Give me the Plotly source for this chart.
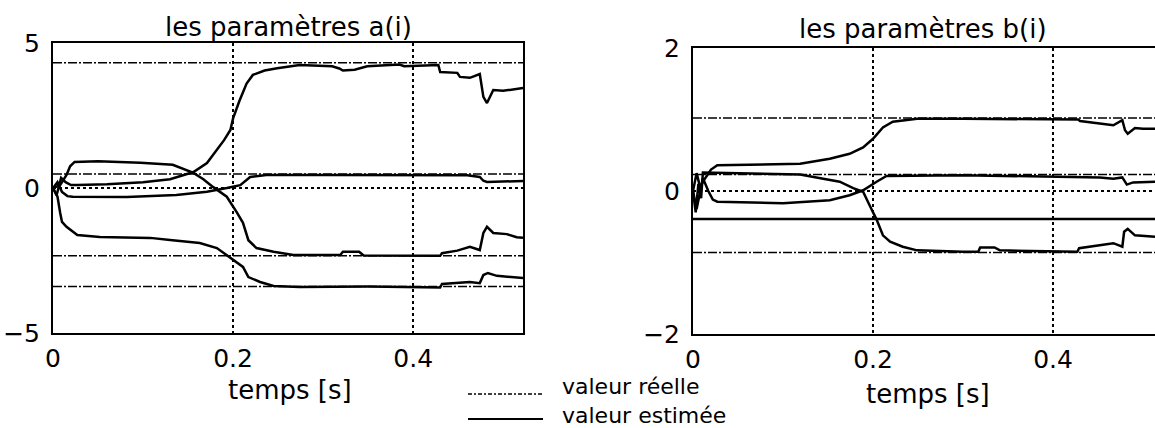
import plotly.graph_objects as go

W, H = 1155, 428
FONT = "DejaVu Sans"

# ---------------- data : parameters a(i) ----------------
a_tmax = 0.522
a_real = [4.32, 0.48, -2.34, -3.40]

a1_t = [0, 0.004, 0.009, 0.014, 0.02, 0.027, 0.06, 0.1, 0.13, 0.156, 0.171, 0.182, 0.19, 0.197, 0.2,
        0.207, 0.215, 0.222, 0.235, 0.249, 0.274, 0.31, 0.318, 0.322, 0.335, 0.349, 0.385, 0.39,
        0.428, 0.43, 0.449, 0.452, 0.463, 0.474, 0.478, 0.482, 0.489, 0.5, 0.511, 0.522]
a1_v = [0, -0.25, 0.35, 0.2, 0.1, 0.1, 0.13, 0.2, 0.3, 0.55, 0.86, 1.3, 1.65, 2.0, 2.4,
        3.0, 3.6, 3.9, 4.05, 4.13, 4.24, 4.2, 4.12, 4.05, 4.08, 4.2, 4.26, 4.2,
        4.24, 4.0, 3.97, 3.83, 3.8, 3.93, 3.14, 2.93, 3.38, 3.35, 3.41, 3.45]

a2_t = [0, 0.008, 0.015, 0.019, 0.024, 0.05, 0.097, 0.133, 0.156, 0.167, 0.178, 0.193, 0.204, 0.211,
        0.217, 0.226, 0.245, 0.267, 0.319, 0.322, 0.34, 0.345, 0.43, 0.432, 0.449, 0.463, 0.474,
        0.478, 0.482, 0.489, 0.504, 0.515, 0.522]
a2_v = [0, 0.1, 0.45, 0.75, 0.9, 0.92, 0.87, 0.8, 0.52, 0.3, 0.03, -0.3, -0.83, -1.2,
        -1.8, -2.07, -2.2, -2.31, -2.31, -2.2, -2.2, -2.33, -2.34, -2.25, -2.16, -2.03, -2.14,
        -1.55, -1.34, -1.55, -1.59, -1.7, -1.72]

a3_t = [0, 0.005, 0.01, 0.016, 0.022, 0.027, 0.082, 0.137, 0.171, 0.193, 0.208, 0.219, 0.237,
        0.3, 0.43, 0.46, 0.474, 0.478, 0.482, 0.5, 0.522]
a3_v = [0, 0.2, -0.14, -0.28, -0.3, -0.3, -0.31, -0.24, -0.13, 0.0, 0.1, 0.38, 0.45,
        0.45, 0.45, 0.44, 0.38, 0.25, 0.21, 0.22, 0.24]

a4_t = [0, 0.005, 0.008, 0.01, 0.015, 0.027, 0.052, 0.108, 0.13, 0.163, 0.182, 0.197, 0.211,
        0.217, 0.23, 0.245, 0.274, 0.35, 0.43, 0.432, 0.449, 0.463, 0.474, 0.478, 0.483, 0.493, 0.522]
a4_v = [0, -0.3, -0.86, -1.17, -1.34, -1.62, -1.69, -1.72, -1.79, -1.9, -2.07, -2.41, -2.72,
        -3.07, -3.24, -3.38, -3.41, -3.4, -3.43, -3.31, -3.28, -3.24, -3.28, -3.0, -2.93, -3.03, -3.1]

# ---------------- data : parameters b(i) ----------------
b_tmax = 0.5133
b_real = [1.02, 0.23, -0.86]

b1_t = [0, 0.004, 0.008, 0.012, 0.02, 0.027, 0.119, 0.152, 0.174, 0.189, 0.2, 0.211, 0.222, 0.249,
        0.3, 0.428, 0.43, 0.452, 0.467, 0.477, 0.48, 0.483, 0.491, 0.5, 0.5133]
b1_v = [0, 0.25, 0.05, 0.15, 0.3, 0.36, 0.38, 0.45, 0.52, 0.61, 0.73, 0.89, 0.97, 1.01,
        1.01, 1.0, 0.98, 0.95, 0.92, 0.99, 0.85, 0.8, 0.88, 0.87, 0.87]

b2_t = [0, 0.003, 0.006, 0.009, 0.011, 0.05, 0.119, 0.137, 0.163, 0.178, 0.189, 0.197, 0.204, 0.211,
        0.219, 0.233, 0.249, 0.3, 0.317, 0.319, 0.335, 0.341, 0.427, 0.429, 0.449, 0.467, 0.477,
        0.479, 0.483, 0.491, 0.5133]
b2_v = [0, -0.3, 0.1, -0.1, 0.26, 0.25, 0.23, 0.19, 0.13, 0.04, -0.01, -0.22, -0.4, -0.62,
        -0.71, -0.78, -0.83, -0.85, -0.85, -0.79, -0.79, -0.83, -0.85, -0.8, -0.76, -0.73, -0.78,
        -0.57, -0.53, -0.62, -0.64]

b3_t = [0, 0.004, 0.011, 0.017, 0.022, 0.027, 0.1, 0.152, 0.174, 0.189, 0.204, 0.215, 0.3, 0.428,
        0.452, 0.467, 0.477, 0.482, 0.489, 0.5133]
b3_v = [0, -0.25, 0.18, 0.0, -0.12, -0.15, -0.17, -0.13, -0.06, 0.01, 0.13, 0.21, 0.22, 0.2,
        0.19, 0.17, 0.19, 0.09, 0.12, 0.13]

b4_t = [0, 0.5133]
b4_v = [-0.39, -0.39]

x_ticks = [0, 0.2, 0.4]
x_ticktext = ["0", "0.2", "0.4"]
a_yticks = [-5, 0, 5]
b_yticks = [-2, 0, 2]

titles = ["les paramètres a(i)", "les paramètres b(i)"]
xlabel = "temps [s]"
legend_labels = ["valeur réelle", "valeur estimée"]

# ---------------- figure ----------------
fig = go.Figure()
est = dict(color="black", width=2.5)
real = dict(color="black", width=1.5, dash="9px,2px,2px,2px")

for v in a_real:
    fig.add_trace(go.Scatter(x=[0, a_tmax], y=[v, v], mode="lines", line=real,
                             xaxis="x", yaxis="y", showlegend=False, hoverinfo="skip"))
for t, v in [(a1_t, a1_v), (a2_t, a2_v), (a3_t, a3_v), (a4_t, a4_v)]:
    fig.add_trace(go.Scatter(x=t, y=v, mode="lines", line=est,
                             xaxis="x", yaxis="y", showlegend=False))

for v in b_real:
    fig.add_trace(go.Scatter(x=[0, b_tmax], y=[v, v], mode="lines", line=real,
                             xaxis="x2", yaxis="y2", showlegend=False, hoverinfo="skip"))
for t, v in [(b1_t, b1_v), (b2_t, b2_v), (b3_t, b3_v), (b4_t, b4_v)]:
    fig.add_trace(go.Scatter(x=t, y=v, mode="lines", line=est,
                             xaxis="x2", yaxis="y2", showlegend=False))

def px(x):
    return x / W

def py(y):
    return 1 - y / H

axis_common = dict(showline=True, linecolor="black", linewidth=2, ticks="",
                   showgrid=True, gridcolor="black", gridwidth=2, griddash="dot",
                   zeroline=False, automargin=False,
                   tickfont=dict(family=FONT, size=25, color="black"))

fig.update_layout(
    width=W, height=H,
    margin=dict(l=0, r=0, t=0, b=0, autoexpand=False),
    paper_bgcolor="white", plot_bgcolor="white",
    showlegend=False,
    xaxis=dict(domain=[px(53), px(523)], range=[0, a_tmax], tickvals=x_ticks,
               ticktext=x_ticktext, mirror=True, anchor="y", ticklabelstandoff=2, **axis_common),
    yaxis=dict(domain=[py(333), py(43)], range=[-5, 5], tickvals=a_yticks,
               mirror=True, anchor="x", ticklabelstandoff=6, **axis_common),
    xaxis2=dict(domain=[px(693), 1.0], range=[0, b_tmax], tickvals=x_ticks,
                ticktext=x_ticktext, mirror=True, anchor="y2", ticklabelstandoff=2, **axis_common),
    yaxis2=dict(domain=[py(334), py(48)], range=[-2, 2], tickvals=b_yticks,
                mirror=False, anchor="x2", ticklabelstandoff=6, **axis_common),
)

ann_font = dict(family=FONT, size=26, color="black")
leg_font = dict(family=FONT, size=22, color="black")
annotations = [
    dict(text=titles[0], x=px(288), y=py(27), xref="paper", yref="paper",
         showarrow=False, font=ann_font, xanchor="center", yanchor="middle"),
    dict(text=titles[1], x=px(923), y=py(29), xref="paper", yref="paper",
         showarrow=False, font=ann_font, xanchor="center", yanchor="middle"),
    dict(text=xlabel, x=px(290), y=py(390), xref="paper", yref="paper",
         showarrow=False, font=ann_font, xanchor="center", yanchor="middle"),
    dict(text=xlabel, x=px(928), y=py(394), xref="paper", yref="paper",
         showarrow=False, font=ann_font, xanchor="center", yanchor="middle"),
    dict(text="<br>".join(legend_labels), x=px(561), y=py(401), xref="paper", yref="paper",
         showarrow=False, font=leg_font, xanchor="left", yanchor="middle", align="left",
         borderpad=0),
]
fig.update_layout(annotations=annotations)

fig.add_shape(type="line", xref="paper", yref="paper", x0=px(468), x1=px(543),
              y0=py(394), y1=py(394), line=dict(color="black", width=1.5, dash="4px,2px,2px,2px"))
fig.add_shape(type="line", xref="paper", yref="paper", x0=px(468), x1=px(543),
              y0=py(419), y1=py(419), line=dict(color="black", width=2))

fig.write_html("out.html")
